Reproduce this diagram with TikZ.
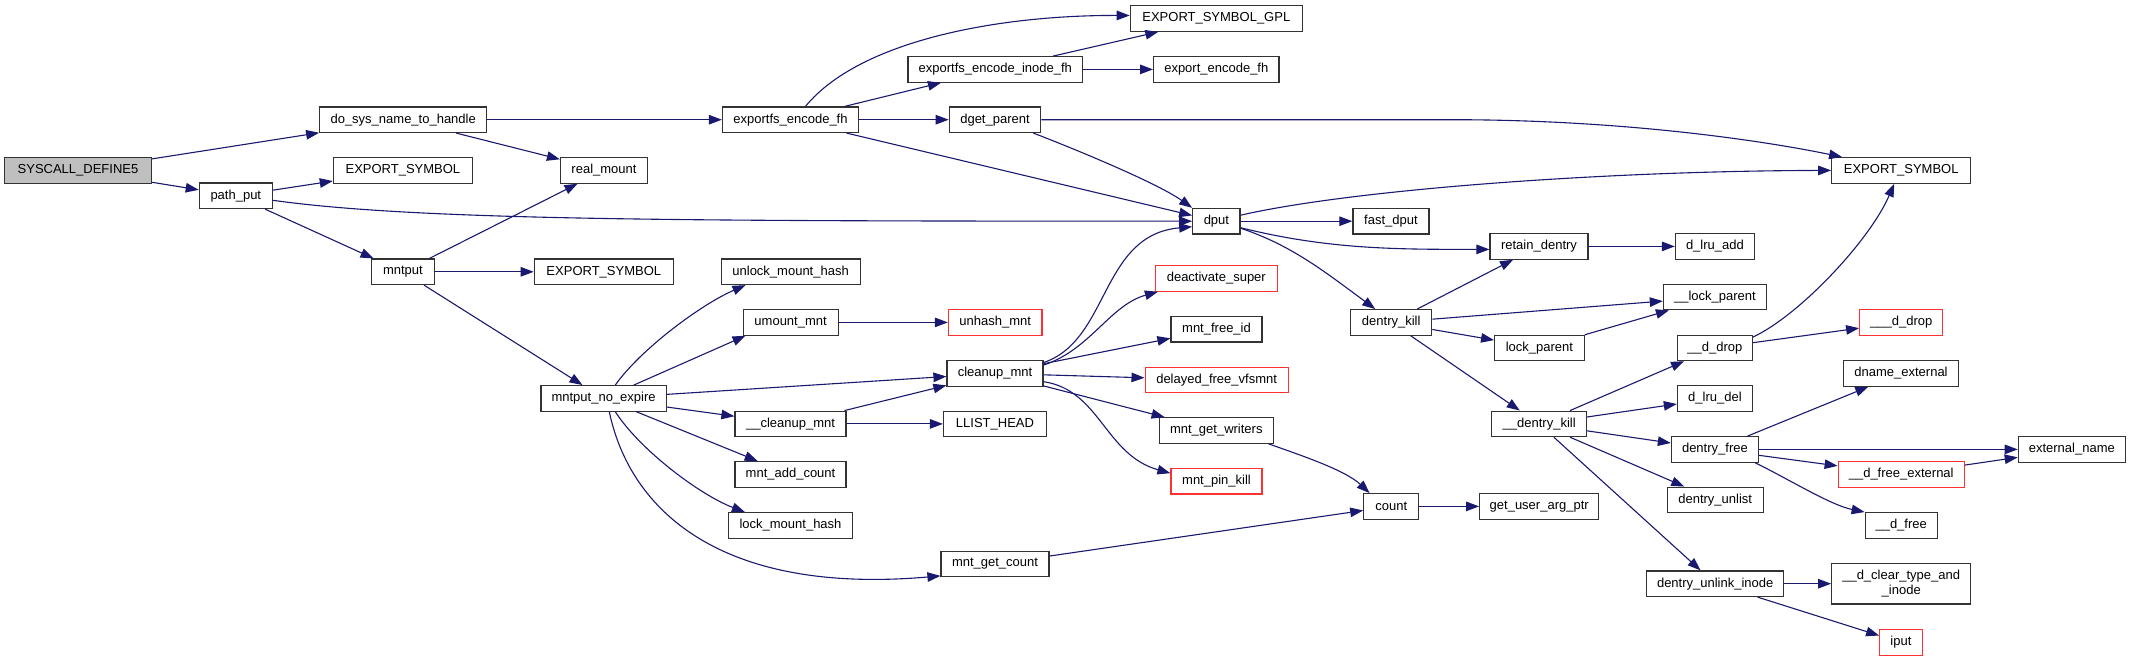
\documentclass[tikz,border=0pt]{standalone}
\usepackage{fontspec}
\setmainfont{Liberation Sans}
\usetikzlibrary{arrows.meta, calc}

\definecolor{callblue}{HTML}{191970}
\definecolor{truncred}{HTML}{FF3030}
\definecolor{rootgray}{HTML}{BFBFBF}

\begin{document}
\begin{tikzpicture}[
        x=1pt, y=-1pt,
        >={Triangle[length=13pt, width=9.5pt]},
        every node/.style={font=\fontsize{13}{14.7}\selectfont},
        func/.style={rectangle, draw=black!80, fill=white, line width=1.2pt, inner sep=0pt, minimum height=25.5pt, minimum width=#1pt, align=center},
        root/.style={func=#1, fill=rootgray},
        trunc/.style={func=#1, draw=truncred},
        call/.style={->, draw=callblue, line width=1.1pt}
    ]
        \fill[white] (0,0) rectangle (2131,661);

        % Nodes
        \node[root=147] (sysdef) at (78,170.4) {SYSCALL\_DEFINE5};
        \node[func=167] (dosys) at (403.2,119.7) {do\_sys\_name\_to\_handle};
        \node[func=139] (expsymA) at (402.9,170.4) {EXPORT\_SYMBOL};
        \node[func=87] (realmount) at (604,170.4) {real\_mount};
        \node[func=73] (pathput) at (235.8,195.8) {path\_put};
        \node[func=63] (mntput) at (402.9,271.8) {mntput};
        \node[func=139] (expsymB) at (603.8,271.8) {EXPORT\_SYMBOL};
        \node[func=125.3] (noexpire) at (603.6,398.4) {mntput\_no\_expire};

        \node[func=136] (encfh) at (790.5,119.7) {exportfs\_encode\_fh};
        \node[func=139] (unlockmh) at (790.6,271.8) {unlock\_mount\_hash};
        \node[func=95] (umount) at (790.6,322.4) {umount\_mnt};
        \node[func=111] (ucleanup) at (790.5,423.9) {\_\_cleanup\_mnt};
        \node[func=111] (addcount) at (790.5,474.4) {mnt\_add\_count};
        \node[func=124] (lockmh) at (790.5,525.4) {lock\_mount\_hash};

        \node[func=174.5] (encinode) at (995.3,69.4) {exportfs\_encode\_inode\_fh};
        \node[func=91.4] (dget) at (995,119.7) {dget\_parent};
        \node[trunc=93.6] (unhash) at (995.2,322.4) {unhash\_mnt};
        \node[func=96] (cleanup) at (995,373.4) {cleanup\_mnt};
        \node[func=103] (llist) at (995,423.9) {LLIST\_HEAD};
        \node[func=108] (getcount) at (995,563.9) {mnt\_get\_count};

        \node[func=172] (gpl) at (1216.3,18.5) {EXPORT\_SYMBOL\_GPL};
        \node[func=125.4] (expencfh) at (1216.3,69.4) {export\_encode\_fh};
        \node[func=47.3] (dput) at (1216.4,221.2) {dput};
        \node[trunc=121.6] (deactivate) at (1216.3,278.4) {deactivate\_super};
        \node[func=91] (freeid) at (1216.5,329.2) {mnt\_free\_id};
        \node[trunc=143] (delayed) at (1216.6,379.9) {delayed\_free\_vfsmnt};
        \node[func=114.4] (writers) at (1216.3,430.5) {mnt\_get\_writers};
        \node[trunc=91] (pinkill) at (1216.5,481.2) {mnt\_pin\_kill};

        \node[func=76] (fastdput) at (1390.9,221.2) {fast\_dput};
        \node[func=81] (dkill) at (1391.2,322.4) {dentry\_kill};
        \node[func=55] (count) at (1391.3,506.4) {count};

        \node[func=98] (retain) at (1539,246.4) {retain\_dentry};
        \node[func=89.5] (lockpar) at (1539.4,347.9) {lock\_parent};
        \node[func=94.7] (udkill) at (1539.2,423.9) {\_\_dentry\_kill};
        \node[func=119] (getuser) at (1539.2,506.4) {get\_user\_arg\_ptr};

        \node[func=79] (lruadd) at (1714.9,246.4) {d\_lru\_add};
        \node[func=103] (ulockpar) at (1714.9,297) {\_\_lock\_parent};
        \node[func=75] (ddrop) at (1714.9,347.9) {\_\_d\_drop};
        \node[func=75] (lrudel) at (1714.9,398.5) {d\_lru\_del};
        \node[func=87] (dfree) at (1714.9,449.4) {dentry\_free};
        \node[func=96] (unlist) at (1715.2,499.9) {dentry\_unlist};
        \node[func=137] (unlink) at (1715.2,583.7) {dentry\_unlink\_inode};

        \node[func=139] (expsymC) at (1901.2,170.4) {EXPORT\_SYMBOL};
        \node[trunc=83] (uddrop) at (1901.2,322.4) {\_\_\_d\_drop};
        \node[func=115] (dname) at (1901,373.4) {dname\_external};
        \node[trunc=126] (dfreeext) at (1901.2,474.4) {\_\_d\_free\_external};
        \node[func=72] (udfree) at (1901.2,525.4) {\_\_d\_free};
        \node[func=139, minimum height=40.7pt] (clear) at (1901.2,583.7) {\_\_d\_clear\_type\_and\\\_inode};
        \node[trunc=42.4] (iput) at (1900.9,642.4) {iput};

        \node[func=107] (extname) at (2071.8,449.4) {external\_name};

        % Arrows
        \draw[call] (sysdef) -- (dosys);
        \draw[call] (sysdef) -- (pathput);
        \draw[call] (dosys) -- (encfh);
        \draw[call] (dosys) -- (realmount);
        \draw[call] (pathput) -- (expsymA);
        \draw[call] ($(pathput.east)+(0,4.5)$) .. controls (420,221) and (700,221) .. (dput.west);
        \draw[call] (pathput) -- (mntput);
        \draw[call] (mntput) -- (realmount);
        \draw[call] (mntput) -- (expsymB);
        \draw[call] (mntput) -- (noexpire);

        \draw[call] ($(encfh.north)+(15,0)$) .. controls (860,40) and (1000,15) .. ($(gpl.west)+(0,-3)$);
        \draw[call] (encfh) -- (encinode);
        \draw[call] (encfh) -- (dget);
        \draw[call] (encfh) -- (dput);
        \draw[call] (encinode) -- (gpl);
        \draw[call] (encinode) -- (expencfh);
        \draw[call] (dget.east) -- ++(410,0) .. controls (1620,119.7) and (1760,140) .. ($(expsymC.north west)+(11,0)$);
        \draw[call] ($(dget.south east)+(-8,0)$) .. controls (1090,155) and (1160,185) .. (dput.north west);

        \draw[call] ($(dput.east)+(0,-6)$) .. controls (1350,190) and (1600,171) .. (expsymC.west);
        \draw[call] (dput) -- (fastdput);
        \draw[call] ($(dput.east)+(0,6.5)$) .. controls (1330,250) and (1400,249.3) .. ($(retain.west)+(0,3)$);
        \draw[call] ($(dput.east)+(0,7)$) .. controls (1290,245) and (1320,268) .. ($(dkill.north)+(-16,0)$);

        \draw[call] (retain) -- (lruadd);
        \draw[call] (dkill) -- (retain);
        \draw[call] (dkill) -- (ulockpar);
        \draw[call] (dkill) -- (lockpar);
        \draw[call] (lockpar) -- (ulockpar);
        \draw[call] (dkill) -- (udkill);
        \draw[call] (udkill) -- (ddrop);
        \draw[call] (udkill) -- (lrudel);
        \draw[call] (udkill) -- (dfree);
        \draw[call] (udkill) -- (unlist);
        \draw[call] (udkill) -- (unlink);
        \draw[call] (ddrop) -- (uddrop);
        \draw[call] ($(ddrop.north east)+(0,2.5)$) .. controls (1800,315) and (1870,240) .. ($(expsymC.south)+(-7,0)$);
        \draw[call] (dfree) -- (dname);
        \draw[call] (dfree) -- (extname);
        \draw[call] (dfree) -- (dfreeext);
        \draw[call] ($(dfree.south east)+(-4,0)$) .. controls (1785,477) and (1830,505) .. (udfree.north west);
        \draw[call] (dfreeext) -- (extname);
        \draw[call] (unlink) -- (clear);
        \draw[call] (unlink) -- (iput);

        \draw[call] (count) -- (getuser);
        \draw[call] ($(writers.south east)+(-5.5,0)$) .. controls (1300,455) and (1345,470) .. ($(count.north west)+(6.4,0)$);
        \draw[call] (getcount) -- (count);

        \draw[call] ($(noexpire.north)+(11.7,0)$) .. controls (640,350) and (700,305) .. ($(unlockmh.south west)+(25,0)$);
        \draw[call] (noexpire) -- ($(umount.south west)+(3,0)$);
        \draw[call] (noexpire) -- (cleanup);
        \draw[call] (noexpire) -- (ucleanup);
        \draw[call] (noexpire) -- (addcount);
        \draw[call] ($(noexpire.south)+(11.7,0)$) .. controls (640,450) and (700,495) .. ($(lockmh.north west)+(17,0)$);
        \draw[call] ($(noexpire.south)+(5.7,0)$) .. controls (630,510) and (720,595) .. ($(getcount.west)+(0,12)$);
        \draw[call] (umount) -- (unhash);

        \draw[call] ($(cleanup.north east)+(0,2.5)$) .. controls (1110,340) and (1100,235) .. ($(dput.west)+(0,5.5)$);
        \draw[call] ($(cleanup.north east)+(0,5)$) .. controls (1090,350) and (1110,305) .. ($(deactivate.south west)+(3,0)$);
        \draw[call] (cleanup) -- (freeid);
        \draw[call] (cleanup) -- (delayed);
        \draw[call] (cleanup) -- (writers);
        \draw[call] ($(cleanup.east)+(0,8.3)$) .. controls (1100,390) and (1105,455) .. ($(pinkill.west)+(0,-8)$);
        \draw[call] (ucleanup) -- (cleanup);
        \draw[call] (ucleanup) -- (llist);

    \end{tikzpicture}
\end{document}
